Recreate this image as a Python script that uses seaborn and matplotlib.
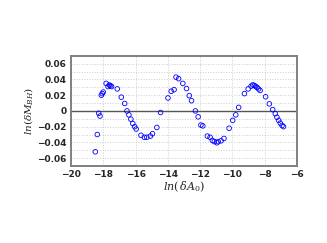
import numpy as np
import matplotlib
matplotlib.use("Agg")
import matplotlib.pyplot as plt
from matplotlib.ticker import MultipleLocator
import seaborn as sns
import pandas as pd

# values
ln_dA0 = [-18.49, -18.37, -18.28, -18.20, -18.12, -18.06, -18.00, -17.82, -17.70, -17.62,
          -17.55, -17.48, -17.13, -16.88, -16.67, -16.53, -16.41, -16.29, -16.17, -16.05,
          -15.96, -15.66, -15.45, -15.30, -15.08, -14.95, -14.68, -14.45, -13.99, -13.79,
          -13.61, -13.49, -13.33, -13.07, -12.84, -12.67, -12.53, -12.29, -12.12, -11.95,
          -11.83, -11.55, -11.38, -11.24, -11.12, -10.96, -10.88, -10.70, -10.52, -10.20,
          -9.98, -9.79, -9.61, -9.25, -9.02, -8.84, -8.74, -8.64, -8.55, -8.47,
          -8.38, -8.28, -7.94, -7.71, -7.50, -7.34, -7.24, -7.13, -7.03, -6.92, -6.83]
ln_dMbh = [-0.052, -0.030, -0.003, -0.0065, 0.020, 0.022, 0.024, 0.035, 0.031, 0.033,
           0.032, 0.031, 0.028, 0.0175, 0.0095, 0.0, -0.005, -0.0105, -0.016, -0.020,
           -0.023, -0.031, -0.0335, -0.0335, -0.032, -0.029, -0.021, -0.002, 0.0165, 0.025,
           0.027, 0.043, 0.041, 0.035, 0.0285, 0.0195, 0.013, 0.0, -0.0075, -0.018,
           -0.019, -0.032, -0.0335, -0.0375, -0.039, -0.0405, -0.039, -0.038, -0.035, -0.022,
           -0.012, -0.005, 0.0045, 0.022, 0.028, 0.0315, 0.033, 0.0325, 0.031, 0.030,
           0.028, 0.026, 0.018, 0.009, 0.0017, -0.0035, -0.008, -0.012, -0.0155, -0.0185, -0.020]

df = pd.DataFrame({'x': ln_dA0, 'y': ln_dMbh})

sns.set_style('white')
plt.rcParams['mathtext.fontset'] = 'dejavuserif'
fig = plt.figure(figsize=(3.27, 2.43), dpi=100)
ax = fig.add_axes([0.217, 0.317, 0.691, 0.453])

sns.scatterplot(data=df, x='x', y='y', ax=ax, marker='o', s=11,
                fc='none', ec='blue', linewidth=0.6, zorder=3)

ax.axhline(0, color='#555555', lw=1.0, zorder=2)

ax.set_xlim(-20, -6)
ax.set_ylim(-0.07, 0.07)
ax.xaxis.set_major_locator(MultipleLocator(2))
ax.yaxis.set_minor_locator(MultipleLocator(0.01))
ticks = np.arange(-0.06, 0.061, 0.02)
ax.set_yticks(ticks)
ax.set_yticklabels(['0' if abs(t) < 1e-9 else f'{t:.2f}'.replace('-', '\u2212') for t in ticks])
ax.grid(which='both', linestyle=':', color='#cccccc', linewidth=0.7)
ax.tick_params(which='both', length=0, labelsize=6.5, pad=3)
for lab in ax.get_xticklabels() + ax.get_yticklabels():
    lab.set_fontweight('bold')

for sp in ax.spines.values():
    sp.set_color('#808080')
    sp.set_linewidth(1.4)

ax.set_xlabel(r'$ln\left(\,\delta A_0\right)$', fontsize=8, labelpad=0)
ax.set_ylabel(r'$ln\left(\delta M_{BH}\right)$', fontsize=7.5, labelpad=2)

fig.savefig('out.png', dpi=100)
